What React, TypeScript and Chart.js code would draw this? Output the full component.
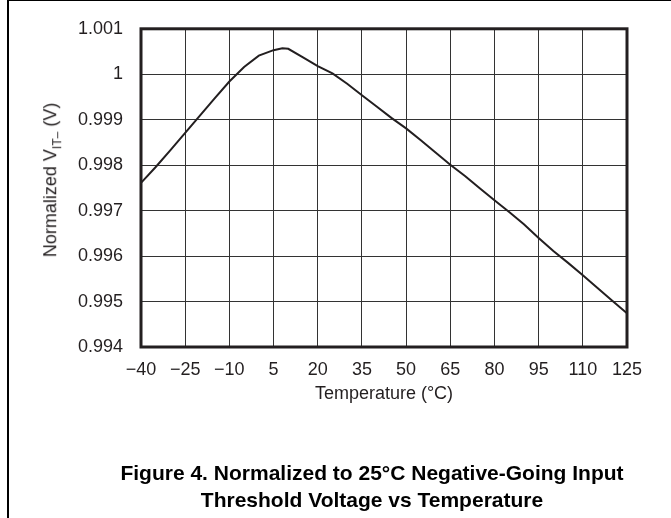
import React, { useEffect, useRef } from "react";
import { Chart, registerables } from "chart.js";

Chart.register(...registerables);

// Temperature (°C)
const temperatures = [
  -40, -35, -30, -25, -20, -15, -10, -5, 0, 5, 8, 10, 15, 20, 25, 30, 35, 40,
  45, 50, 55, 60, 65, 70, 75, 80, 85, 90, 95, 100, 105, 110, 115, 120, 125,
];

// Normalized V_IT- (V)
const vitNormalized = [
  0.99761, 0.99796, 0.99833, 0.99871, 0.99909, 0.99947, 0.99984, 1.00016,
  1.00041, 1.00053, 1.00057, 1.00056, 1.00037, 1.00018, 1.00002, 0.99979,
  0.99954, 0.99929, 0.99904, 0.99881, 0.99855, 0.99828, 0.99801, 0.99776,
  0.99749, 0.99723, 0.99697, 0.9967, 0.9964, 0.99611, 0.99585, 0.99558,
  0.9953, 0.99502, 0.99474,
];

const xTickLabels = ["−40", "−25", "−10", "5", "20", "35", "50", "65", "80", "95", "110", "125"];
const yTickLabels = ["0.994", "0.995", "0.996", "0.997", "0.998", "0.999", "1", "1.001"];

const xMin = -40;
const xMax = 125;
const xStep = 15;
const yMin = 0.994;
const yMax = 1.001;
const yStep = 0.001;

const xAxisTitle = "Temperature (°C)";
const yAxisTitleMain = "Normalized V";
const yAxisTitleSub = "IT–";
const yAxisTitleUnit = " (V)";
const figureTitleLines = [
  "Figure 4. Normalized to 25°C Negative-Going Input",
  "Threshold Voltage vs Temperature",
];

const FONT = '"Liberation Sans", Arial, Helvetica, sans-serif';
const INK = "#231f20";
const GRID = "#333333";

export default function App() {
  const canvasRef = useRef<HTMLCanvasElement | null>(null);

  useEffect(() => {
    const canvas = canvasRef.current;
    if (!canvas) return;

    const frameBox = {
      id: "frameBox",
      afterDatasetsDraw(chart: any) {
        const { ctx, chartArea: a } = chart;
        ctx.save();
        ctx.strokeStyle = INK;
        ctx.lineWidth = 3;
        ctx.strokeRect(a.left, a.top, a.right - a.left, a.bottom - a.top);
        ctx.restore();
      },
    };

    const chart = new Chart(canvas, {
      type: "line",
      data: {
        datasets: [
          {
            data: temperatures.map((t, i) => ({ x: t, y: vitNormalized[i] })),
            borderColor: INK,
            borderWidth: 2,
            pointRadius: 0,
            tension: 0,
            fill: false,
          },
        ],
      },
      options: {
        responsive: false,
        animation: false,
        devicePixelRatio: 1,
        layout: { padding: { top: 17, right: 44, left: 0, bottom: 0 } },
        plugins: {
          legend: { display: false },
          tooltip: { enabled: false },
        },
        scales: {
          x: {
            type: "linear",
            min: xMin,
            max: xMax,
            ticks: {
              stepSize: xStep,
              padding: 12,
              autoSkip: false,
              maxRotation: 0,
              color: INK,
              font: { family: FONT, size: 18 },
              callback: (v: any) => xTickLabels[Math.round((Number(v) - xMin) / xStep)],
            },
            grid: { color: GRID, lineWidth: 1, drawTicks: false },
            border: { display: false },
            title: {
              display: true,
              text: xAxisTitle,
              color: INK,
              font: { family: FONT, size: 18 },
              padding: { top: 0, bottom: 113 },
            },
            afterFit: (s: any) => {
              s.height = 171;
            },
          },
          y: {
            type: "linear",
            min: yMin,
            max: yMax,
            ticks: {
              stepSize: yStep,
              padding: 18,
              autoSkip: false,
              color: INK,
              font: { family: FONT, size: 18 },
              callback: (v: any) => yTickLabels[Math.round((Number(v) - yMin) / yStep)],
            },
            grid: { color: GRID, lineWidth: 1, drawTicks: false },
            border: { display: false },
            afterFit: (s: any) => {
              s.width = 141;
            },
          },
        },
      } as any,
      plugins: [frameBox],
    });

    return () => chart.destroy();
  }, []);

  return (
    <div
      style={{
        position: "absolute",
        left: 0,
        top: 0,
        width: 671,
        height: 518,
        background: "#ffffff",
        overflow: "hidden",
      }}
    >
      <canvas
        ref={canvasRef}
        width={671}
        height={518}
        style={{ position: "absolute", left: 0, top: 0, display: "block" }}
      />
      <div style={{ position: "absolute", left: 7, top: 0, width: 2, height: 518, background: "#000" }} />
      <div style={{ position: "absolute", left: 8, top: 0, width: 663, height: 1, background: "#000" }} />
      <div
        style={{
          position: "absolute",
          left: 52,
          top: 180,
          transform: "translate(-50%, -50%) rotate(-90deg)",
          whiteSpace: "nowrap",
          fontFamily: FONT,
          fontSize: 18,
          lineHeight: "21.6px",
          color: INK,
        }}
      >
        {yAxisTitleMain}
        <span style={{ fontSize: 12, position: "relative", top: 5 }}>{yAxisTitleSub}</span>
        {yAxisTitleUnit}
      </div>
      <div
        style={{
          position: "absolute",
          left: 72,
          top: 459,
          width: 600,
          textAlign: "center",
          fontFamily: FONT,
          fontWeight: "bold",
          fontSize: 21,
          lineHeight: "27px",
          color: "#000",
        }}
      >
        {figureTitleLines.map((l, i) => (
          <div key={i}>{l}</div>
        ))}
      </div>
    </div>
  );
}
